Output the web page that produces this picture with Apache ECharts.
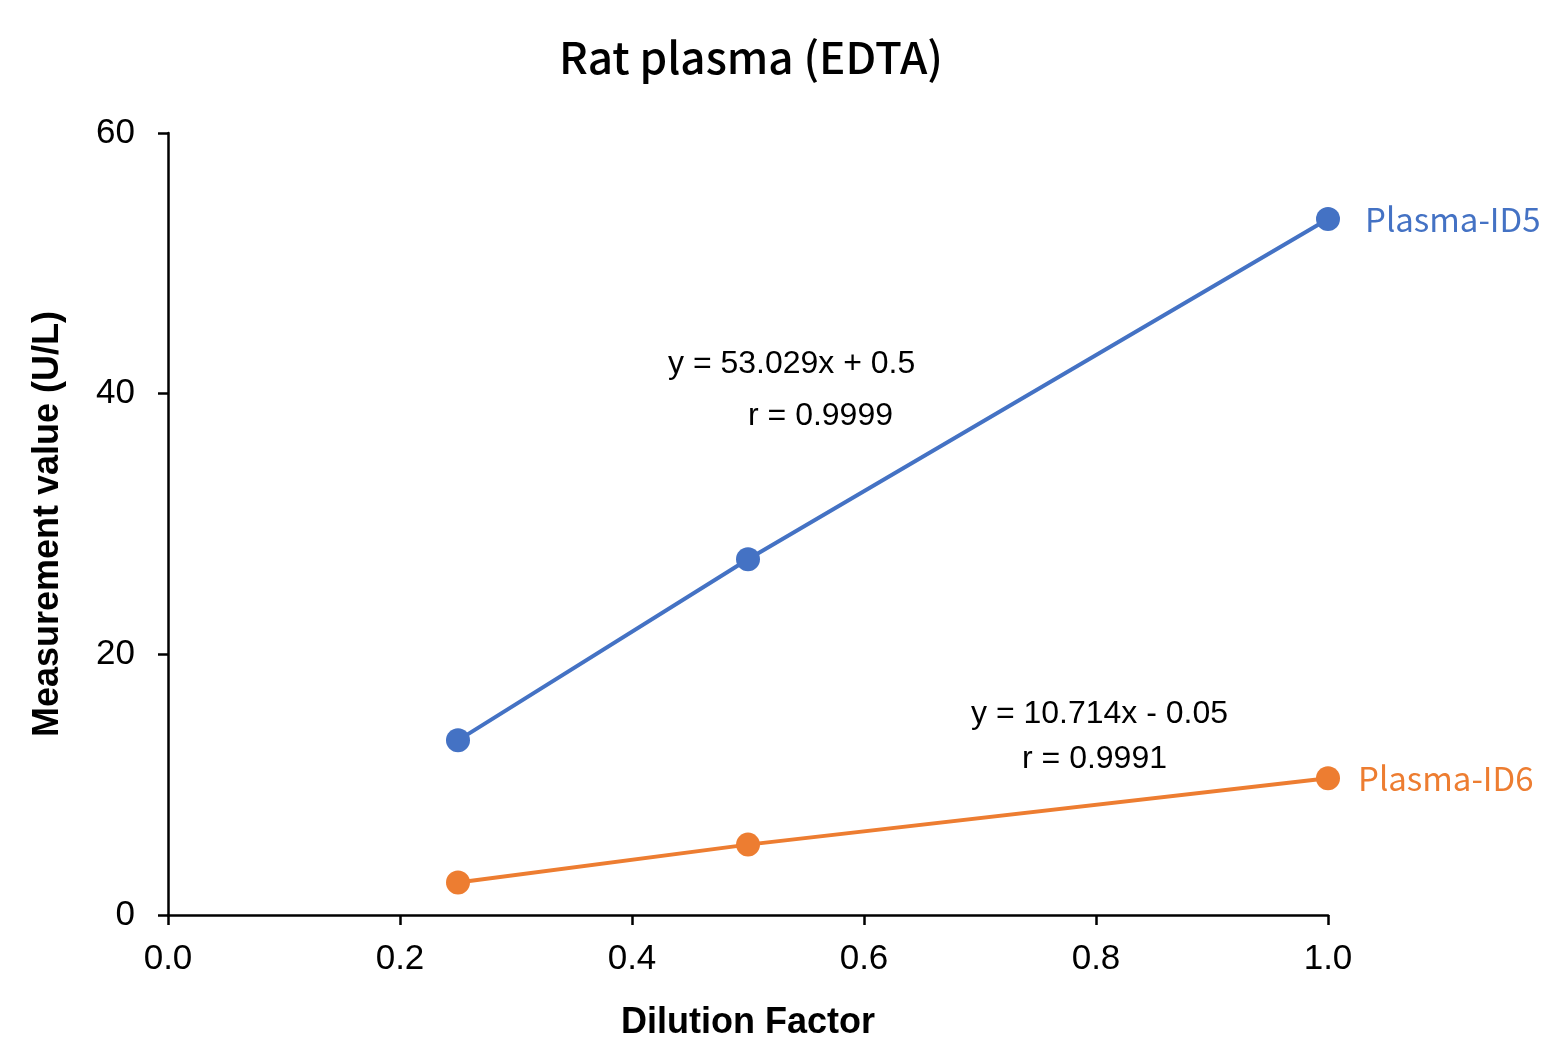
<!DOCTYPE html>
<html>
	<head>
		<meta charset="utf-8">
		<title>Rat plasma (EDTA)</title>
	</head>
	<style type="text/css">
		html, body {
			margin: 0;
			padding: 0;
			background: #fff;
		}
		#graphical {
			width: 1550px;
			height: 1060px;
		}
	</style>
	<body>
		<div id="graphical"></div>
		<script src="https://cdn.jsdelivr.net/npm/echarts@6/dist/echarts.min.js" type="text/javascript" charset="utf-8"></script>
		<script type="text/javascript">
			// 希释倍率
			var dilution = [0.25, 0.5, 1.0];
			var id5Values = [13.4, 27.3, 53.4];
			var id6Values = [2.5, 5.4, 10.5];
			var seriesNames = ['Plasma-ID5', 'Plasma-ID6'];
			var xTicks = [0, 0.2, 0.4, 0.6, 0.8, 1.0];
			var yTicks = [0, 20, 40, 60];

			function pairs(xs, ys) {
				var out = [];
				for (var i = 0; i < xs.length; i++) {
					out.push([xs[i], ys[i]]);
				}
				return out;
			}

			var chart = echarts.init(document.getElementById('graphical'));

			var axisFont = 'Liberation Sans';

			var option = {
				animation: false,
				title: {
					text: 'Rat plasma (EDTA)',
					left: 746,
					top: 30,
					textAlign: 'center',
					textStyle: {
						fontFamily: 'Noto Sans CJK JP',
						fontWeight: 500,
						fontSize: 44,
						color: '#000'
					}
				},
				grid: {
					left: 168,
					right: 222,
					top: 133,
					bottom: 145
				},
				xAxis: {
					type: 'value',
					min: xTicks[0],
					max: xTicks[xTicks.length - 1],
					interval: 0.2,
					name: 'Dilution Factor',
					nameLocation: 'middle',
					nameGap: 90,
					nameTextStyle: {
						fontFamily: axisFont,
						fontWeight: 'bold',
						fontSize: 36,
						color: '#000'
					},
					axisLine: {
						lineStyle: {
							color: '#000',
							width: 2.5
						}
					},
					axisTick: {
						show: true,
						length: 10,
						lineStyle: {
							color: '#000',
							width: 2.5
						}
					},
					axisLabel: {
						margin: 27,
						fontFamily: axisFont,
						fontSize: 35,
						color: '#000',
						formatter: function(v) {
							return v.toFixed(1);
						}
					},
					splitLine: {
						show: false
					}
				},
				yAxis: {
					type: 'value',
					min: yTicks[0],
					max: yTicks[yTicks.length - 1],
					interval: 20,
					name: 'Measurement value (U/L)',
					nameLocation: 'middle',
					nameGap: 102,
					nameTextStyle: {
						fontFamily: axisFont,
						fontWeight: 'bold',
						fontSize: 36,
						color: '#000'
					},
					axisLine: {
						show: true,
						lineStyle: {
							color: '#000',
							width: 2.5
						}
					},
					axisTick: {
						show: true,
						length: 10,
						lineStyle: {
							color: '#000',
							width: 2.5
						}
					},
					axisLabel: {
						margin: 33,
						fontFamily: axisFont,
						fontSize: 35,
						color: '#000'
					},
					splitLine: {
						show: false
					}
				},
				series: [{
					name: seriesNames[0],
					type: 'line',
					data: pairs(dilution, id5Values),
					symbol: 'circle',
					symbolSize: 24,
					lineStyle: {
						color: '#4472C4',
						width: 4
					},
					itemStyle: {
						color: '#4472C4'
					},
					endLabel: {
						show: true,
						formatter: '{a}',
						distance: 37,
						fontFamily: 'Noto Sans CJK JP',
						fontSize: 33,
						color: '#4472C4'
					}
				}, {
					name: seriesNames[1],
					type: 'line',
					data: pairs(dilution, id6Values),
					symbol: 'circle',
					symbolSize: 24,
					lineStyle: {
						color: '#ED7D31',
						width: 4
					},
					itemStyle: {
						color: '#ED7D31'
					},
					endLabel: {
						show: true,
						formatter: '{a}',
						distance: 30,
						fontFamily: 'Noto Sans CJK JP',
						fontSize: 33,
						color: '#ED7D31'
					}
				}],
				graphic: [{
					type: 'text',
					left: 668,
					top: 348,
					style: {
						text: 'y = 53.029x + 0.5',
						fontFamily: axisFont,
						fontSize: 32,
						fill: '#000'
					}
				}, {
					type: 'text',
					left: 748,
					top: 400,
					style: {
						text: 'r = 0.9999',
						fontFamily: axisFont,
						fontSize: 32,
						fill: '#000'
					}
				}, {
					type: 'text',
					left: 971,
					top: 698,
					style: {
						text: 'y = 10.714x - 0.05',
						fontFamily: axisFont,
						fontSize: 32,
						fill: '#000'
					}
				}, {
					type: 'text',
					left: 1022,
					top: 743,
					style: {
						text: 'r = 0.9991',
						fontFamily: axisFont,
						fontSize: 32,
						fill: '#000'
					}
				}]
			};

			chart.setOption(option);
			window.onresize = function() {
				chart.resize();
			}
		</script>
	</body>
</html>
